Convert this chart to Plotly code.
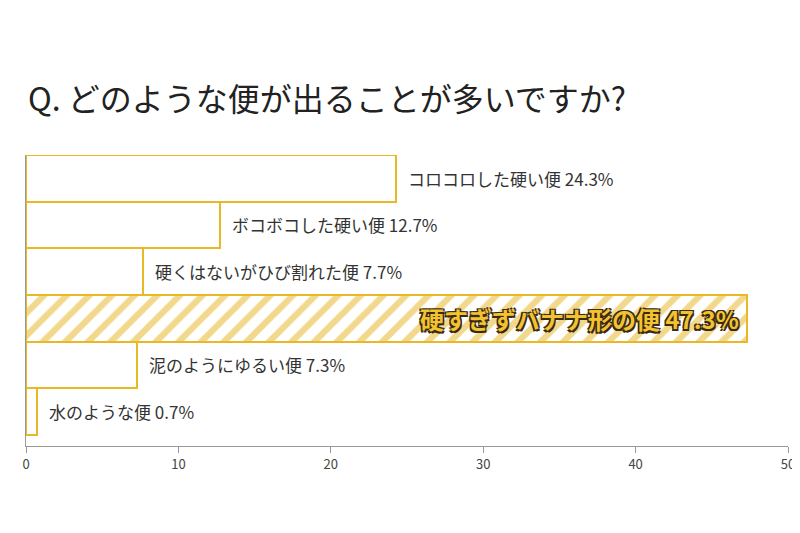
import plotly.graph_objects as go

labels = ["コロコロした硬い便", "ボコボコした硬い便", "硬くはないがひび割れた便",
          "硬すぎずバナナ形の便", "泥のようにゆるい便", "水のような便"]
values = [24.3, 12.7, 7.7, 47.3, 7.3, 0.7]
highlight = 3

yellow = "#E9B824"
font = "Noto Sans CJK JP"
pos = list(range(len(labels)))

fig = go.Figure()
fig.add_trace(go.Bar(
    x=values, y=pos, orientation="h",
    marker=dict(
        color="white",
        line=dict(color=yellow, width=2),
        pattern=dict(shape=["" if i != highlight else "/" for i in pos],
                     fgcolor="#E5B21A", bgcolor="white", size=16, solidity=0.4),
    ),
    width=1, hoverinfo="skip",
))

for i, (lab, v) in enumerate(zip(labels, values)):
    text = f"{lab} {v}%"
    if i == highlight:
        fig.add_annotation(x=v, y=i, text=f"<b>{text}</b>", xanchor="right", xshift=-6,
                           showarrow=False,
                           font=dict(family=font, size=24, color="#F2C230",
                                     shadow="1.5px 1.5px 0 #3a2a10, -1.5px -1.5px 0 #3a2a10, 1.5px -1.5px 0 #3a2a10, -1.5px 1.5px 0 #3a2a10"))
    else:
        fig.add_annotation(x=v, y=i, text=text, xanchor="left", xshift=10,
                           showarrow=False, font=dict(family=font, size=17, color="#333"))

fig.add_annotation(xref="paper", yref="paper", x=0, y=1, yshift=58, xanchor="left",
                   yanchor="middle", showarrow=False,
                   text="Q. どのような便が出ることが多いですか?",
                   font=dict(family=font, size=32, color="#222"))

fig.update_layout(
    width=800, height=533, paper_bgcolor="white", plot_bgcolor="white",
    margin=dict(l=18, r=20, t=147, b=95, autoexpand=False), bargap=0, showlegend=False,
)
fig.update_xaxes(range=[0, 50], tickvals=[0, 10, 20, 30, 40, 50], showgrid=False,
                 showline=True, linecolor="#999", linewidth=1, ticks="outside",
                 ticklen=6, tickcolor="#999", zeroline=False, automargin=False,
                 tickfont=dict(family=font, size=13, color="#444"))
fig.update_yaxes(range=[5.74, -0.5], showticklabels=False, showgrid=False, automargin=False,
                 showline=True, linecolor="#999", linewidth=1, zeroline=False)

fig.write_html("out.html")
